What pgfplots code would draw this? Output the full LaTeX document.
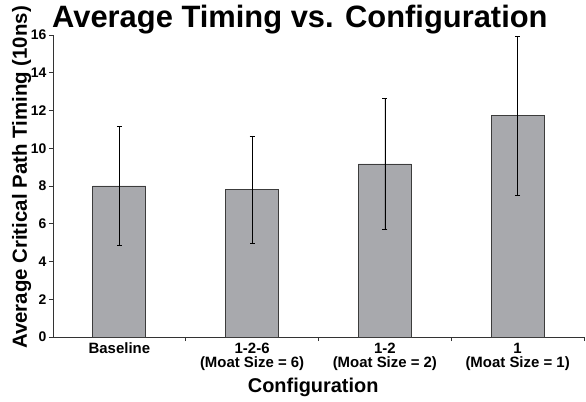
\documentclass[border=0pt]{standalone}
\usepackage{fontspec}
\setmainfont{Liberation Sans}
\usepackage{pgfplots}
\pgfplotsset{compat=1.18}

\definecolor{barfill}{HTML}{A8A9AD}
\definecolor{baredge}{HTML}{3C3C3C}

\begin{document}
\begin{tikzpicture}
    %% axis placed so that the page is 586 x 402 bp
    \begin{axis}[
        at={(53bp,65bp)}, anchor=south west,
        scale only axis,
        width=531bp, height=302bp,
        xmin=-0.5, xmax=3.5,
        ymin=0, ymax=16,
        ytick={0,2,...,16},
        xtick={0,1,2,3},
        xticklabels={Baseline,{1-2-6\\(Moat Size = 6)},{1-2\\(Moat Size = 2)},{1\\(Moat Size = 1)}},
        minor xtick={0.5,1.5,2.5,3.5},
        major x tick style={draw=none},
        axis x line*=bottom, axis y line*=left,
        tick align=outside,
        major tick length=4bp, minor tick length=4bp,
        axis line style={black!80, line width=0.8pt},
        every tick/.style={black!80, line width=0.6pt},
        /pgf/number format/assume math mode=true,
        yticklabel style={font=\bfseries\fontsize{14}{14}\selectfont, xshift=1bp},
        xticklabel style={font=\bfseries\fontsize{15}{14}\selectfont, align=center, anchor=north, yshift=1.5bp},
        title={Average Timing vs. Configuration},
        title style={font=\bfseries\fontsize{31}{31}\selectfont, at={(axis description cs:0.465,1)}, anchor=base, yshift=2bp},
        xlabel={Configuration},
        xlabel style={font=\bfseries\fontsize{20}{20}\selectfont, at={(axis description cs:0.49,0)}, anchor=base, yshift=-55.5bp},
        ylabel={Average Critical Path Timing (10ns)},
        ylabel style={font=\bfseries\fontsize{20.5}{20.5}\selectfont, at={(axis description cs:-0.049,0.528)}, anchor=base, rotate=0},
        clip=false,
    ]
    %% bars with symmetric error bars
    \addplot[
        ybar, bar width=53bp,
        fill=barfill, draw=baredge, line width=0.8pt,
        error bars/.cd, y dir=both, y explicit,
        error bar style={black, line width=0.6pt},
        error mark options={black, line width=0.6pt, mark size=2.5bp, rotate=90},
    ] coordinates {
        (0,8.00)  +- (0,3.15)
        (1,7.82)  +- (0,2.83)
        (2,9.17)  +- (0,3.45)
        (3,11.73) +- (0,4.21)
    };
    \end{axis}
    \pgfresetboundingbox
    \path[use as bounding box] (0,0) rectangle (586bp,402bp);
\end{tikzpicture}
\end{document}
